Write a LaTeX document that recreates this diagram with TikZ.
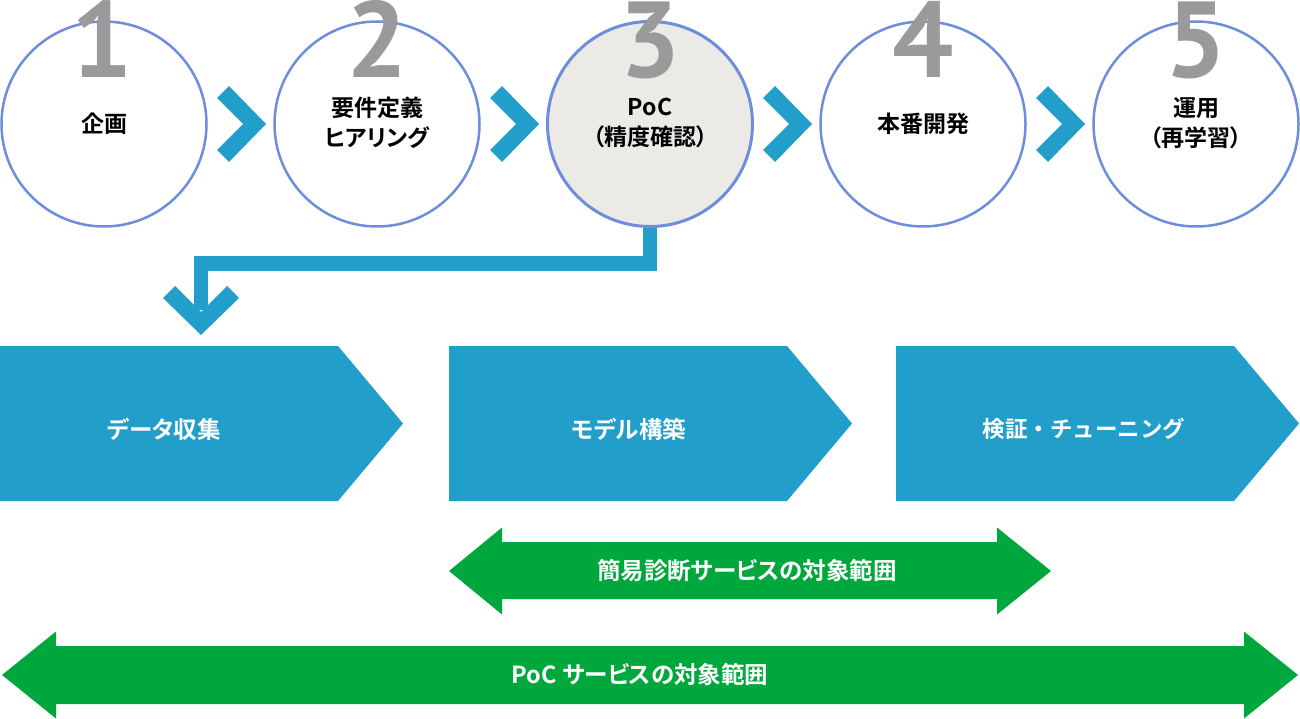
\documentclass[tikz,border=0pt]{standalone}
\usepackage{fontspec}
\usetikzlibrary{calc}
\newfontfamily\jpb{Noto Sans CJK JP Bold}[RawFeature=+palt]
\newfontfamily\jpbf{Noto Sans CJK JP Bold}
\newfontfamily\numf{PT Sans}
\definecolor{circ}{RGB}{110,141,218}
\definecolor{pocfill}{RGB}{236,234,230}
\definecolor{ablue}{RGB}{34,158,202}
\definecolor{agreen}{RGB}{0,167,60}
\definecolor{numgray}{RGB}{154,154,154}
\begin{document}
\begin{tikzpicture}[x=1pt,y=-1pt,
  stepc/.style={circle, draw=circ, line width=2.5pt, fill=white, minimum size=205pt, inner sep=0pt, outer sep=0pt},
  lbl/.style={font=\jpb\fontsize{23}{30}\selectfont, align=center, text=black, inner sep=0pt},
  wlbl/.style={font=\jpb\fontsize{23.5}{28}\selectfont, text=white},
  num/.style={font=\numf\bfseries\fontsize{108}{108}\selectfont, text=numgray, anchor=base, inner sep=0pt, text depth=0pt},
  conn/.style={draw=ablue, line width=14.5pt, line join=miter},
  chev/.style={fill=ablue}]
\useasboundingbox (0,0) rectangle (1300,719);

% connector from step 3 to data collection (drawn under the circle)
\coordinate (dtip) at (201,335);
\draw[conn] (650,200) -- (650,263.5) -| ($(dtip)+(0,-25)$);
\fill[chev] (dtip) -- ++(-38,-37) -- ++(12,-12) -- ++(26,26) -- ++(26,-26) -- ++(12,12) -- cycle;

% step circles
\node[stepc] (c1) at (104,124) {};
\node[stepc] (c2) at (377,124) {};
\node[stepc, fill=pocfill, line width=3pt] (c3) at (650,124) {};
\node[stepc] (c4) at (923,124) {};
\node[stepc] (c5) at (1196,124) {};

\node[lbl] (t1) at (c1) {企画};
\node[lbl] (t2) at ($(c2)+(0,-1)$) {要件定義\\ヒアリング};
\node[lbl] (t3) at ($(c3)+(0,-1)$) {PoC\\（精度確認）};
\node[lbl] (t4) at (c4) {本番開発};
\node[lbl] (t5) at ($(c5)+(0,-1)$) {運用\\（再学習）};

% big numbers
\node[num] (n1) at (102,78) {1};
\node[num] (n2) at (377,78) {2};
\node[num] (n3) at (650,78) {3};
\node[num] (n4) at (923,78) {4};
\node[num] (n5) at (1196,78) {5};

% chevrons between circles
\foreach \a/\b in {c1/c2,c2/c3,c3/c4,c4/c5}{
  \coordinate (m) at ($(\a.east)!0.5!(\b.west)+(25.5,0)$);
  \fill[chev] (m) -- ++(-37,-38) -- ++(-12,12) -- ++(26,26) -- ++(-26,26) -- ++(12,12) -- cycle;
}

% process pentagons
\foreach \s in {0,449,896}{
  \fill[ablue] (\s,346) -- ++(338,0) -- ++(65,77.5) -- ++(-65,77.5) -- ++(-338,0) -- cycle;
}
\node[wlbl] (b1) at (164,429) {データ収集};
\node[wlbl] (b2) at (629,429) {モデル構築};
\node[wlbl, font=\jpbf\fontsize{22.5}{28}\selectfont] (b3) at (1084,429) {検証・チューニング};

% green double arrows
\fill[agreen] (449,571) -- (502,527.5) -- (502,542) -- (997,542) -- (997,527.5) -- (1051,571)
  -- (997,614.5) -- (997,599) -- (502,599) -- (502,614.5) -- cycle;
\node[wlbl] (g1) at (747,571) {簡易診断サービスの対象範囲};

\fill[agreen] (2,675) -- (56,631.5) -- (56,646) -- (1244,646) -- (1244,631.5) -- (1298,675)
  -- (1244,718.5) -- (1244,704) -- (56,704) -- (56,718.5) -- cycle;
\node[wlbl] (g2) at (640,675) {PoC サービスの対象範囲};
\end{tikzpicture}
\end{document}
